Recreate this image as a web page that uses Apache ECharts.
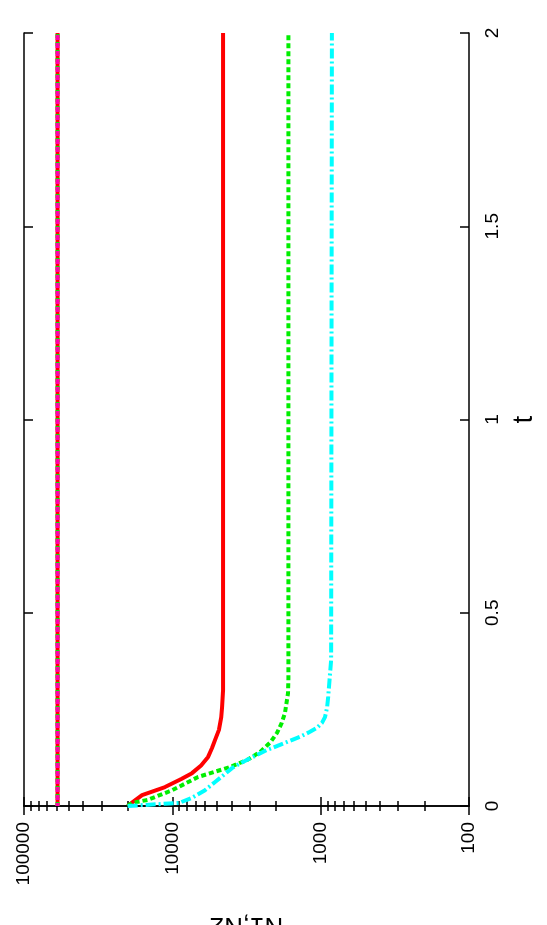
<!DOCTYPE html>
<html>
<head>
<meta charset="utf-8">
<script src="https://cdn.jsdelivr.net/npm/echarts@6/dist/echarts.min.js"></script>
<style>
  html, body { margin: 0; padding: 0; background: #fff; }
  #chart { width: 547px; height: 925px; }
</style>
</head>
<body>
<div id="chart"></div>
<script>
// N axis (log) tick labels and t axis range
const nTicks = [100, 1000, 10000, 100000];
const tMax = 2;

// red solid curve
const redT = [0, 0.01, 0.028, 0.049, 0.07, 0.085, 0.105, 0.127, 0.15, 0.171, 0.197, 0.23, 0.256, 0.3, 2];
const redN = [20000, 18500, 16000, 11200, 8700, 7370, 6400, 5740, 5400, 5150, 4850, 4680, 4620, 4550, 4550];

// green dashed curve
const greenT = [0, 0.008, 0.016, 0.041, 0.075, 0.101, 0.12, 0.14, 0.165, 0.189, 0.215, 0.241, 0.292, 0.33, 2];
const greenN = [20000, 18700, 14600, 10000, 6710, 4080, 3100, 2560, 2180, 1970, 1830, 1740, 1660, 1650, 1650];

// cyan dash-dot curve
const cyanT = [0, 0.008, 0.021, 0.041, 0.062, 0.098, 0.114, 0.145, 0.165, 0.179, 0.192, 0.202, 0.215, 0.23, 0.255, 0.282, 0.378, 2];
const cyanN = [20000, 9000, 7400, 6020, 5150, 3960, 3340, 2300, 1700, 1380, 1180, 1060, 980, 935, 905, 890, 850, 840];

// constant total line (several overlapping curves)
const totalT = [0, 2];
const totalN = [59400, 59400];

const pairs = (ns, ts) => ns.map((n, i) => [n, ts[i]]);

const font = '"Liberation Sans", sans-serif';

function lineSeries(name, ns, ts, color, type, width) {
  return {
    name,
    type: 'line',
    showSymbol: false,
    silent: true,
    data: pairs(ns, ts),
    lineStyle: { color, width, type, cap: 'butt', join: 'round' }
  };
}

const chart = echarts.init(document.getElementById('chart'));

const logAxisBase = {
  type: 'log',
  logBase: 10,
  min: nTicks[0],
  max: nTicks[nTicks.length - 1],
  inverse: true,
  splitLine: { show: false },
  axisLine: { show: true, lineStyle: { color: '#000', width: 1.5 } },
  axisTick: { show: true, inside: true, length: 9, lineStyle: { color: '#000', width: 1.5 } },
  minorTick: { show: true, splitNumber: 9, length: 5, lineStyle: { color: '#000', width: 1.5 } }
};

const tAxisBase = {
  type: 'value',
  min: 0,
  max: tMax,
  interval: 0.5,
  splitLine: { show: false },
  axisLine: { show: true, onZero: false, lineStyle: { color: '#000', width: 1.5 } },
  axisTick: { show: true, inside: true, length: 9, lineStyle: { color: '#000', width: 1.5 } }
};

chart.setOption({
  animation: false,
  backgroundColor: '#fff',
  grid: { left: 24, right: 78, top: 33, bottom: 119, containLabel: false, outerBoundsMode: 'none' },
  xAxis: [
    Object.assign({}, logAxisBase, {
      position: 'bottom',
      name: 'N1,N2',
      nameLocation: 'middle',
      nameRotate: 180,
      nameGap: 106,
      nameTextStyle: { fontFamily: font, fontSize: 26, color: '#000' },
      axisLabel: {
        rotate: 90,
        margin: 16,
        fontFamily: font,
        fontSize: 19,
        color: '#000',
        formatter: (v) => String(v)
      }
    }),
    Object.assign({}, logAxisBase, {
      position: 'top',
      axisLabel: { show: false }
    })
  ],
  yAxis: [
    Object.assign({}, tAxisBase, {
      position: 'right',
      name: 't',
      nameLocation: 'middle',
      nameRotate: 90,
      nameGap: 34,
      nameTextStyle: { fontFamily: font, fontSize: 28, color: '#000' },
      axisLabel: {
        rotate: 90,
        margin: 14,
        fontFamily: font,
        fontSize: 19,
        color: '#000',
        formatter: (v) => String(v)
      }
    }),
    Object.assign({}, tAxisBase, {
      position: 'left',
      axisLabel: { show: false }
    })
  ],
  series: [
    lineSeries('N1', redN, redT, '#ff0000', 'solid', 4),
    lineSeries('N2', greenN, greenT, '#00ee00', [5, 3], 4),
    lineSeries('N3', cyanN, cyanT, '#00ffff', [10, 3, 2, 3], 4),
    lineSeries('total1', totalN, totalT, '#ff0000', 'solid', 4),
    lineSeries('total2', totalN, totalT, '#00ee00', [4, 4], 4),
    Object.assign(lineSeries('total3', totalN, totalT, '#ff00aa', [5, 3], 4), {
      lineStyle: { color: '#ff00aa', width: 4, type: [5, 3], dashOffset: 2 }
    })
  ]
});
</script>
</body>
</html>
